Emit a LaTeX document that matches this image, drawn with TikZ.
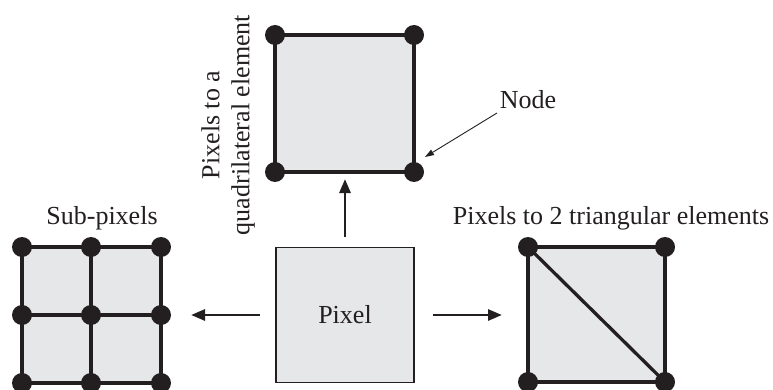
\documentclass[tikz,border=0pt]{standalone}
\usepackage{fontspec}
\setmainfont{Liberation Serif}
\usetikzlibrary{arrows.meta}
\definecolor{cellgray}{HTML}{E6E7E8}
\definecolor{inkblack}{HTML}{231F20}
\tikzset{
  dot/.style={circle,fill=inkblack,inner sep=0pt,minimum size=20pt},
  edge/.style={draw=inkblack,line width=3.3pt},
  cell/.style={fill=cellgray},
  bigarrow/.style={draw=inkblack,line width=2.8pt,-{Triangle[length=14pt,width=11pt]}},
  thinarrow/.style={draw=inkblack,line width=0.9pt,-{Triangle[length=9pt,width=6pt]}},
  lbl/.style={font=\fontsize{26}{30}\selectfont,text=inkblack,inner sep=0pt}
}
\begin{document}
\begin{tikzpicture}[x=1pt,y=-1pt]
\useasboundingbox (0,0) rectangle (773,390);
% ---------- Sub-pixels ----------
\fill[cell] (22,247) rectangle (161,383);
\foreach \c/\x in {a/22,b/91,c/161}{
  \foreach \r/\y in {1/247,2/315,3/383}{
    \coordinate (s\c\r) at (\x,\y);
  }
}
\draw[edge] (sa1) -- (sc1) (sa2) -- (sc2) (sa3) -- (sc3)
            (sa1) -- (sa3) (sb1) -- (sb3) (sc1) -- (sc3);
\foreach \c in {a,b,c}{\foreach \r in {1,2,3}{\node[dot] at (s\c\r) {};}}
\node[lbl] (sublbl) at (102,218) {Sub-pixels};
% ---------- Pixel ----------
\node[draw=inkblack,line width=1.2pt,fill=cellgray,minimum width=138pt,minimum height=135pt,inner sep=0pt] (pix) at (345,315) {};
\node[lbl] (pixlbl) at (345,315) {Pixel};
% ---------- Quadrilateral ----------
\coordinate (q1) at (275,35);
\coordinate (q2) at (414,35);
\coordinate (q3) at (414,172);
\coordinate (q4) at (275,172);
\fill[cell] (q1) rectangle (q3);
\draw[edge] (q1) -- (q2) -- (q3) -- (q4) -- cycle;
\node[dot] (qd1) at (q1) {};
\node[dot] (qd2) at (q2) {};
\node[dot] (qd3) at (q3) {};
\node[dot] (qd4) at (q4) {};
\node[lbl,rotate=90,align=center] (quadlbl) at (228,125) {Pixels to a\\quadrilateral element};
\node[lbl] (nodelbl) at (528,100) {Node};
\coordinate (nodestart) at (497,113);
\coordinate (nodeend) at (425,157);
\draw[thinarrow] (nodestart) -- (nodeend);
% ---------- Triangular ----------
\coordinate (t1) at (528,247);
\coordinate (t2) at (665,247);
\coordinate (t3) at (665,382);
\coordinate (t4) at (528,382);
\fill[cell] (t1) rectangle (t3);
\draw[edge] (t1) -- (t2) -- (t3) -- (t4) -- cycle;
\draw[edge] (t1) -- (t3);
\node[dot] (td1) at (t1) {};
\node[dot] (td2) at (t2) {};
\node[dot] (td3) at (t3) {};
\node[dot] (td4) at (t4) {};
\node[lbl] (trilbl) at (611,218) {Pixels to 2 triangular elements};
% ---------- Arrows ----------
\coordinate (la0) at (260,315);
\coordinate (la1) at (191,315);
\coordinate (ra0) at (433,315);
\coordinate (ra1) at (502,315);
\coordinate (ua0) at (345,237);
\coordinate (ua1) at (345,179);
\draw[bigarrow] (la0) -- (la1);
\draw[bigarrow] (ra0) -- (ra1);
\draw[bigarrow] (ua0) -- (ua1);
\end{tikzpicture}
\end{document}
